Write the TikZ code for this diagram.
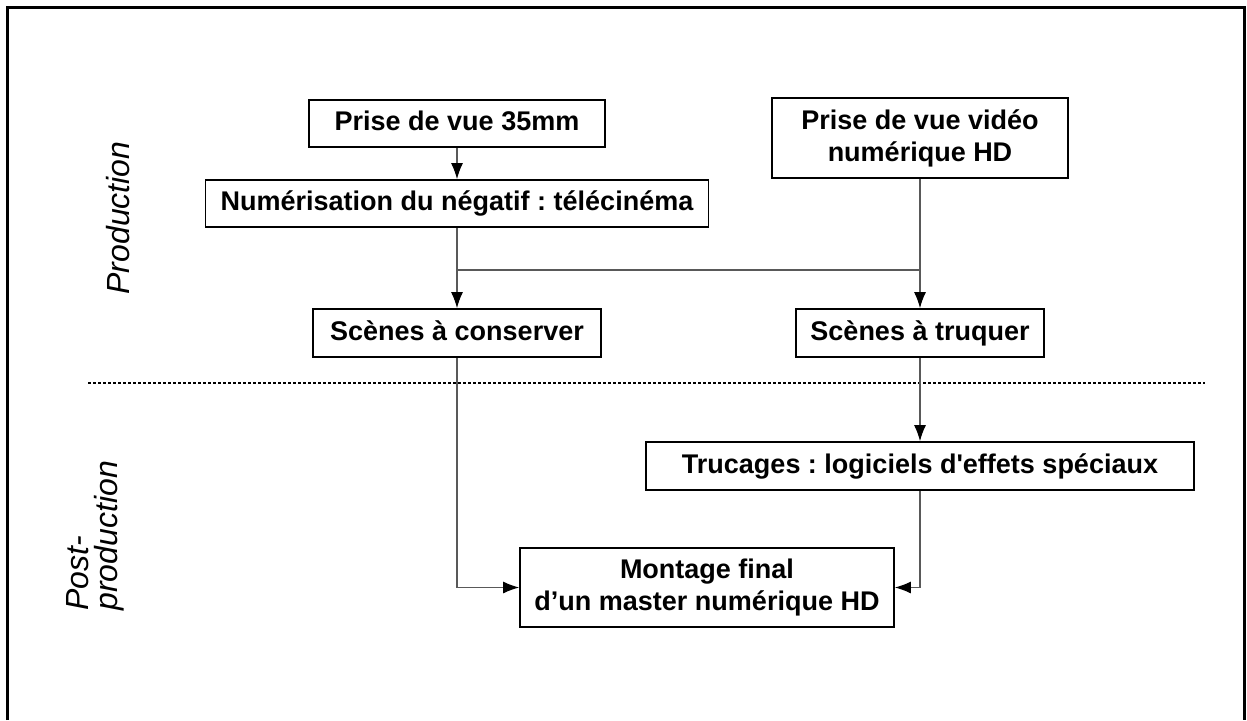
\documentclass[tikz,border=0pt]{standalone}
\usepackage{fontspec}
\setmainfont{Liberation Sans}
\usetikzlibrary{arrows.meta}
\frenchspacing
\begin{document}
\begin{tikzpicture}[x=1pt,y=-1pt,
  stepbox/.style={draw=black,line width=1.8pt,fill=white,inner sep=0pt,
    font=\fontsize{27}{32}\selectfont\bfseries,align=center},
  oneline/.style={text height=19.5pt,text depth=5.5pt},
  link/.style={draw=black!65,line width=1.1pt},
  flow/.style={link,-{Latex[length=16pt,width=12pt,black]}},
  phase/.style={font=\fontsize{32}{29}\selectfont\itshape,align=left,rotate=90}]
\useasboundingbox (0,0) rectangle (1247,720);
% open frame around the chart
\draw[line width=3pt] (7,720) -- (7,7) -- (1244,7) -- (1244,720);

% production / post-production boundary
\draw[line width=2.5pt,dash pattern=on 2.5pt off 2.5pt,black] (88,383) -- (1205,383);
\node[phase] (prod) at (118,218) {Production};
\node[phase,anchor=south west] (post) at (128,614) {Post-\\production};

% boxes
\node[stepbox,oneline,minimum width=296pt,minimum height=47pt] (film) at (457,123.5) {Prise de vue 35mm};
\node[stepbox,minimum width=296pt,minimum height=80pt] (video) at (920,138) {Prise de vue vidéo\\numérique HD};
\node[stepbox,oneline,minimum width=503pt,minimum height=47pt] (scan) at (457,203.5) {Numérisation du négatif : télécinéma};
\node[stepbox,oneline,minimum width=288pt,minimum height=48pt] (keep) at (457,333) {Scènes à conserver};
\node[stepbox,oneline,minimum width=248pt,minimum height=48pt] (fx) at (920,333) {Scènes à truquer};
\node[stepbox,oneline,minimum width=548pt,minimum height=48pt] (soft) at (920,466) {Trucages : logiciels d\textquotesingle effets spéciaux};
\node[stepbox,minimum width=374pt,minimum height=79pt] (master) at (707,587.5) {Montage final\\d’un master numérique HD};

% connectors
\coordinate (split) at (457,270);
\draw[flow] (film) -- (scan);
\draw[flow] (scan) -- (keep);
\draw[flow] (video) -- (fx);
\draw[link] (split) -- (split -| video);
\draw[flow] (fx) -- (soft);
\draw[flow] (keep.south) |- (master.west);
\draw[flow] (soft.south) |- (master.east);
\end{tikzpicture}
\end{document}
